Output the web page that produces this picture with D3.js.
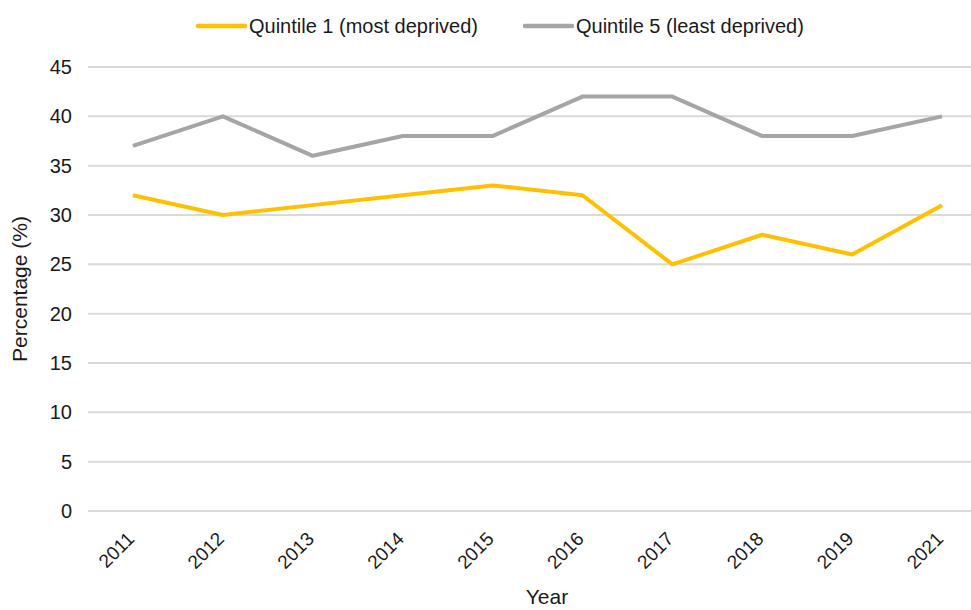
<!DOCTYPE html>
<html>
<head>
<meta charset="utf-8">
<script src="https://cdn.jsdelivr.net/npm/d3@7"></script>
<style>
  body { margin: 0; background: #fff; }
  svg { font-family: "Liberation Sans", Arial, sans-serif; }
</style>
</head>
<body>
<script>
var years = ["2011", "2012", "2013", "2014", "2015", "2016", "2017", "2018", "2019", "2021"];
var quintile1 = [32, 30, 31, 32, 33, 32, 25, 28, 26, 31];
var quintile5 = [37, 40, 36, 38, 38, 42, 42, 38, 38, 40];
var yTicks = [0, 5, 10, 15, 20, 25, 30, 35, 40, 45];
var seriesNames = ["Quintile 1 (most deprived)", "Quintile 5 (least deprived)"];
var seriesColors = ["#FFC000", "#A5A5A5"];

var width = 971, height = 610;
var margin = { left: 88, right: -16, top: 67, bottom: 99 };

var svg = d3.select("body").append("svg")
    .attr("width", width)
    .attr("height", height);

var x = d3.scalePoint()
    .domain(years)
    .range([margin.left, width - margin.right])
    .padding(0.5);

var y = d3.scaleLinear()
    .domain([0, 45])
    .range([height - margin.bottom, margin.top]);

//グリッド
svg.append("g")
    .selectAll("line")
    .data(yTicks)
    .enter()
    .append("line")
    .attr("x1", margin.left)
    .attr("x2", width - margin.right)
    .attr("y1", function (d) { return y(d); })
    .attr("y2", function (d) { return y(d); })
    .attr("stroke", "#d9d9d9")
    .attr("stroke-width", 2);

//Y軸ラベル
var yAxis = svg.append("g")
    .attr("transform", "translate(" + (margin.left - 16) + ",0)")
    .call(d3.axisLeft(y).tickValues(yTicks).tickSize(0).tickPadding(0));
yAxis.select(".domain").remove();
yAxis.selectAll("text")
    .attr("font-size", "20px")
    .attr("font-family", "Liberation Sans, Arial, sans-serif")
    .attr("fill", "#1a1a1a");

//X軸ラベル
var xAxis = svg.append("g")
    .attr("transform", "translate(0," + (height - margin.bottom) + ")")
    .call(d3.axisBottom(x).tickSize(0).tickPadding(0));
xAxis.select(".domain").remove();
xAxis.selectAll("text")
    .attr("font-size", "19px")
    .attr("font-family", "Liberation Sans, Arial, sans-serif")
    .attr("fill", "#1a1a1a")
    .attr("text-anchor", "end")
    .attr("dy", "0")
    .attr("transform", "translate(2,29) rotate(-45)");

//線
var line = d3.line()
    .x(function (d, i) { return x(years[i]); })
    .y(function (d) { return y(d); });

[quintile1, quintile5].forEach(function (vals, i) {
    svg.append("path")
        .datum(vals)
        .attr("d", line)
        .attr("fill", "none")
        .attr("stroke", seriesColors[i])
        .attr("stroke-width", 4)
        .attr("stroke-linejoin", "round");
});

//凡例
var legendX = [198, 525];
var legend = svg.selectAll(".legend")
    .data(seriesNames)
    .enter()
    .append("g")
    .attr("transform", function (d, i) { return "translate(" + legendX[i] + ",26)"; });
legend.append("line")
    .attr("x1", 0).attr("x2", 47)
    .attr("stroke", function (d, i) { return seriesColors[i]; })
    .attr("stroke-width", 4.5)
    .attr("stroke-linecap", "round");
legend.append("text")
    .attr("x", 51)
    .attr("y", 7)
    .attr("font-size", "20px")
    .attr("fill", "#1a1a1a")
    .text(function (d) { return d; });

//軸タイトル
svg.append("text")
    .attr("transform", "translate(27," + y(22.5) + ") rotate(-90)")
    .attr("text-anchor", "middle")
    .attr("font-size", "21px")
    .attr("fill", "#1a1a1a")
    .text("Percentage (%)");

svg.append("text")
    .attr("x", 547)
    .attr("y", 604)
    .attr("text-anchor", "middle")
    .attr("font-size", "21px")
    .attr("fill", "#1a1a1a")
    .text("Year");
</script>
</body>
</html>
